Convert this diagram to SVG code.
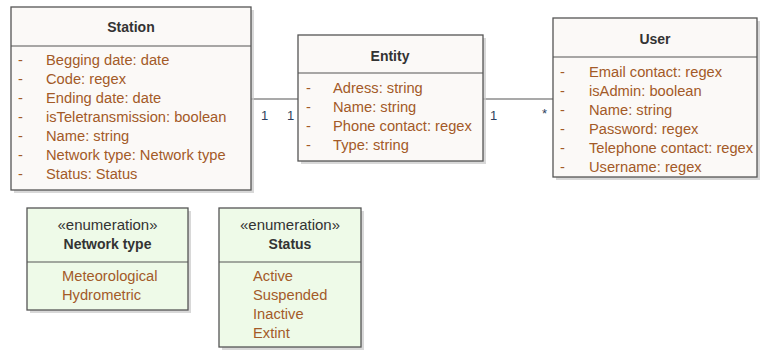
<svg xmlns="http://www.w3.org/2000/svg" width="760" height="351" viewBox="0 0 760 351">
<defs>
<style>
.box{fill:#fbf9f7;stroke:#555;stroke-width:1.3}
.enum{fill:#eefae8;stroke:#555;stroke-width:1.3}
.sh{fill:#c8c8c8;opacity:0.7}
.div{stroke:#555;stroke-width:1.2}
.t{font-family:"Liberation Sans",Arial,sans-serif;font-size:14px;font-weight:bold;fill:#333;text-anchor:middle}
.st{font-family:"Liberation Sans",Arial,sans-serif;font-size:15px;fill:#333;text-anchor:middle}
.a{font-family:"Liberation Sans",Arial,sans-serif;font-size:14.7px;fill:#a35a28}
.m{font-family:"Liberation Sans",Arial,sans-serif;font-size:13px;fill:#2d3f5e}
.c{stroke:#555;stroke-width:1.2;fill:none}
</style>
</defs>
<rect width="760" height="351" fill="#fff"/>
<g id="connectors">
<line class="c" x1="251" y1="99" x2="298" y2="99"/>
<line class="c" x1="483" y1="99" x2="553" y2="99"/>
<text class="m" x="261" y="120">1</text>
<text class="m" x="287" y="120">1</text>
<text class="m" x="490" y="120">1</text>
<text class="m" x="542" y="118">*</text>
</g>
<g id="station">
<rect class="sh" x="14" y="10" width="240" height="183"/>
<rect class="box" x="11" y="7" width="240" height="183"/>
<line class="div" x1="11" y1="46" x2="251" y2="46"/>
<text class="t" x="131" y="32">Station</text>
<g class="a">
<text x="18" y="65">-</text><text x="46" y="65">Begging date: date</text>
<text x="18" y="84">-</text><text x="46" y="84">Code: regex</text>
<text x="18" y="103">-</text><text x="46" y="103">Ending date: date</text>
<text x="18" y="122">-</text><text x="46" y="122">isTeletransmission: boolean</text>
<text x="18" y="141">-</text><text x="46" y="141">Name: string</text>
<text x="18" y="160">-</text><text x="46" y="160">Network type: Network type</text>
<text x="18" y="179">-</text><text x="46" y="179">Status: Status</text>
</g>
</g>
<g id="entity">
<rect class="sh" x="301" y="38" width="185" height="126"/>
<rect class="box" x="298" y="35" width="185" height="126"/>
<line class="div" x1="298" y1="73" x2="483" y2="73"/>
<text class="t" x="390" y="61">Entity</text>
<g class="a">
<text x="306" y="93">-</text><text x="333" y="93">Adress: string</text>
<text x="306" y="112">-</text><text x="333" y="112">Name: string</text>
<text x="306" y="131">-</text><text x="333" y="131">Phone contact: regex</text>
<text x="306" y="150">-</text><text x="333" y="150">Type: string</text>
</g>
</g>
<g id="user">
<rect class="sh" x="556" y="21" width="204" height="159"/>
<rect class="box" x="553" y="18" width="204" height="159"/>
<line class="div" x1="553" y1="57" x2="757" y2="57"/>
<text class="t" x="655" y="44">User</text>
<g class="a">
<text x="560" y="77">-</text><text x="589" y="77">Email contact: regex</text>
<text x="560" y="96">-</text><text x="589" y="96">isAdmin: boolean</text>
<text x="560" y="115">-</text><text x="589" y="115">Name: string</text>
<text x="560" y="134">-</text><text x="589" y="134">Password: regex</text>
<text x="560" y="153">-</text><text x="589" y="153">Telephone contact: regex</text>
<text x="560" y="172">-</text><text x="589" y="172">Username: regex</text>
</g>
</g>
<g id="networktype">
<rect class="sh" x="30" y="211" width="161" height="102"/>
<rect class="enum" x="27" y="208" width="161" height="102"/>
<line class="div" x1="27" y1="262" x2="188" y2="262"/>
<text class="st" x="107.5" y="230">«enumeration»</text>
<text class="t" x="107.5" y="249">Network type</text>
<g class="a">
<text x="62" y="281">Meteorological</text>
<text x="62" y="300">Hydrometric</text>
</g>
</g>
<g id="status">
<rect class="sh" x="222" y="211" width="142" height="139"/>
<rect class="enum" x="219" y="208" width="142" height="139"/>
<line class="div" x1="219" y1="262" x2="361" y2="262"/>
<text class="st" x="290" y="230">«enumeration»</text>
<text class="t" x="290" y="249">Status</text>
<g class="a">
<text x="253" y="281">Active</text>
<text x="253" y="300">Suspended</text>
<text x="253" y="319">Inactive</text>
<text x="253" y="338">Extint</text>
</g>
</g>
</svg>
